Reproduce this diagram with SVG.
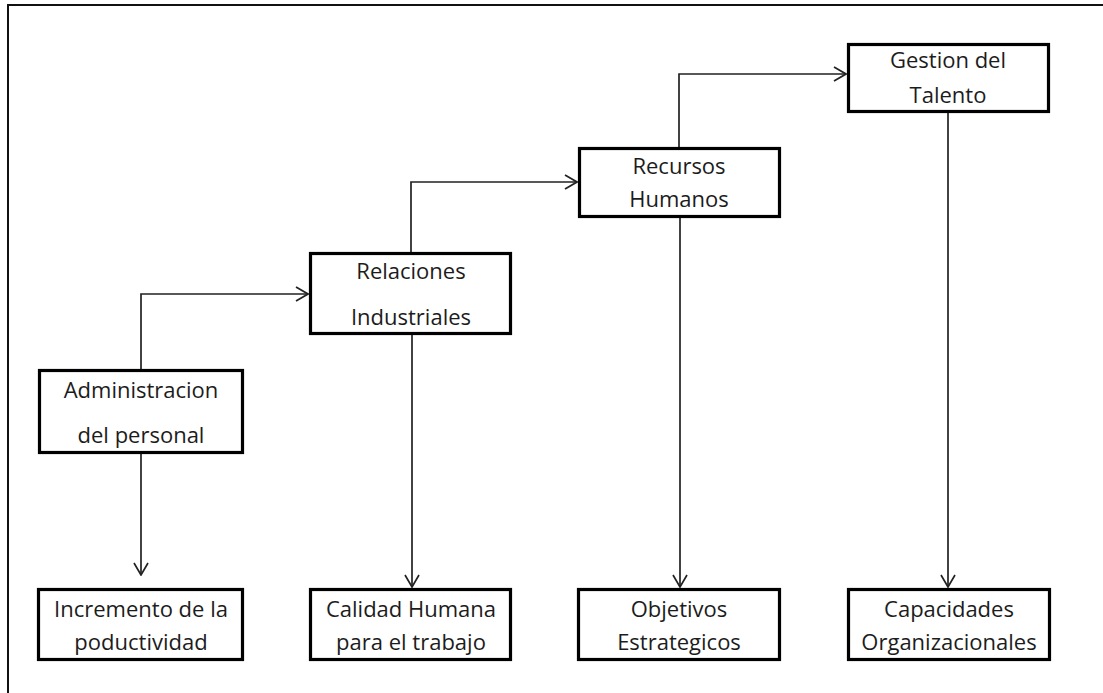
<svg xmlns="http://www.w3.org/2000/svg" width="1103" height="693" viewBox="0 0 1103 693">
<style>
.box{fill:#fff;stroke:#000;stroke-width:3.2}
.lbl{font-family:"Open Sans","Liberation Sans",sans-serif;font-size:22px;fill:#1c1c1c;text-anchor:middle}
.con{fill:none;stroke:#222;stroke-width:1.7}
.frame{fill:none;stroke:#111;stroke-width:2}
</style>
<defs>
<marker id="arr" viewBox="0 0 14 16" markerWidth="14" markerHeight="16" refX="13" refY="8" orient="auto" markerUnits="userSpaceOnUse">
<path d="M1,1 L13,8 L1,15" fill="none" stroke="#222" stroke-width="1.7"/>
</marker>
</defs>
<rect width="1103" height="693" fill="#fff"/>
<path class="frame" d="M8,693 L8,5 L1103,5"/>
<g id="connectors">
<path class="con" d="M141,369 L141,294 L308,294" marker-end="url(#arr)"/>
<path class="con" d="M411,252 L411,182 L577,182" marker-end="url(#arr)"/>
<path class="con" d="M679,147 L679,74 L846,74" marker-end="url(#arr)"/>
<path class="con" d="M141,453 L141,575" marker-end="url(#arr)"/>
<path class="con" d="M412,334 L412,587" marker-end="url(#arr)"/>
<path class="con" d="M680,217 L680,587" marker-end="url(#arr)"/>
<path class="con" d="M948,112 L948,587" marker-end="url(#arr)"/>
</g>
<g id="administracion">
<rect class="box" x="39.5" y="370.5" width="203" height="82"/>
<text class="lbl" x="141" y="397.5">Administracion</text>
<text class="lbl" x="141" y="442.5">del personal</text>
</g>
<g id="relaciones">
<rect class="box" x="310.5" y="253.5" width="200" height="80"/>
<text class="lbl" x="411" y="279">Relaciones</text>
<text class="lbl" x="411" y="325">Industriales</text>
</g>
<g id="recursos">
<rect class="box" x="579.5" y="148.5" width="200" height="68"/>
<text class="lbl" x="679" y="174">Recursos</text>
<text class="lbl" x="679" y="207">Humanos</text>
</g>
<g id="gestion">
<rect class="box" x="848.5" y="44.5" width="200" height="67"/>
<text class="lbl" x="948" y="68">Gestion del</text>
<text class="lbl" x="948" y="103">Talento</text>
</g>
<g id="incremento">
<rect class="box" x="38.5" y="589.5" width="204" height="70"/>
<text class="lbl" x="141" y="616.5">Incremento de la</text>
<text class="lbl" x="141" y="650">poductividad</text>
</g>
<g id="calidad">
<rect class="box" x="310.5" y="589.5" width="200" height="70"/>
<text class="lbl" x="411" y="616.5">Calidad Humana</text>
<text class="lbl" x="411" y="650">para el trabajo</text>
</g>
<g id="objetivos">
<rect class="box" x="578.5" y="589.5" width="201" height="70"/>
<text class="lbl" x="679" y="616.5">Objetivos</text>
<text class="lbl" x="679" y="650">Estrategicos</text>
</g>
<g id="capacidades">
<rect class="box" x="848.5" y="589.5" width="201" height="70"/>
<text class="lbl" x="949" y="616.5">Capacidades</text>
<text class="lbl" x="949" y="650">Organizacionales</text>
</g>
</svg>
